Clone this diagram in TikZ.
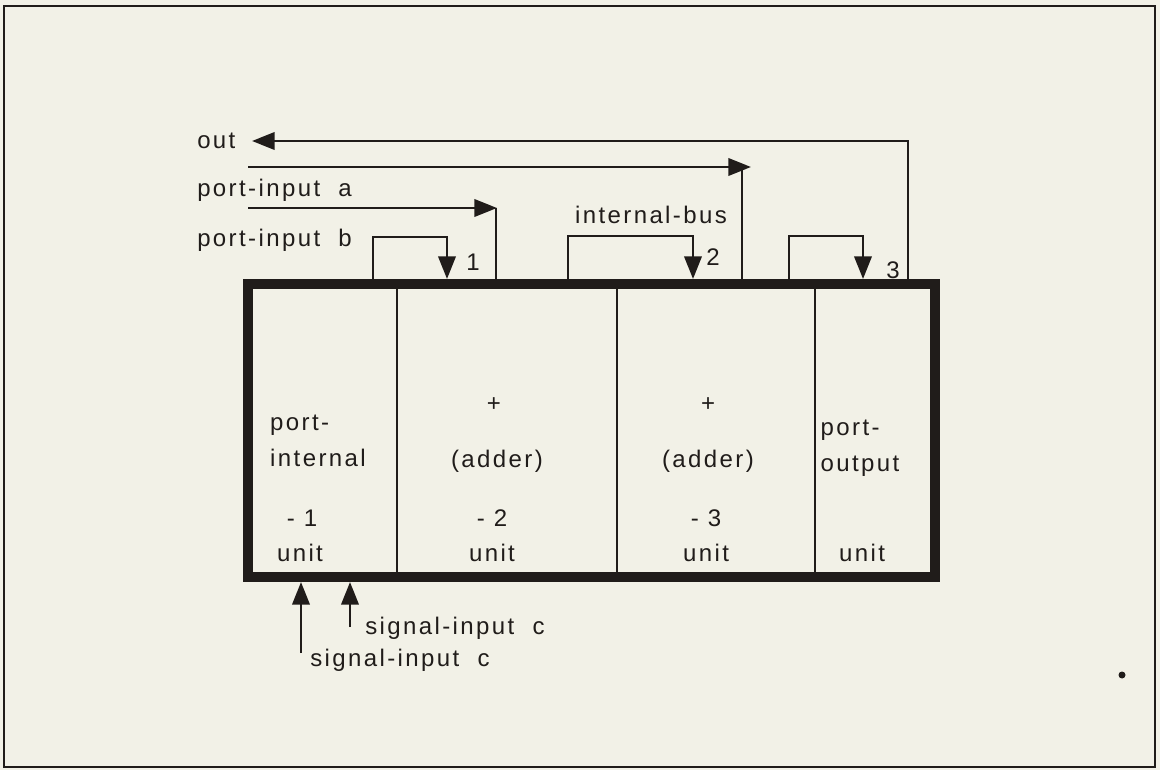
\documentclass[tikz,border=0pt]{standalone}
\usepackage{fontspec}
\setmainfont{Liberation Sans}[LetterSpace=10]
\usetikzlibrary{arrows.meta}
\definecolor{paper}{RGB}{242,241,231}
\definecolor{ink}{RGB}{32,28,26}

\begin{document}
\begin{tikzpicture}[x=0.75pt, y=-0.75pt,
  every node/.style={font=\fontsize{18}{21}\selectfont, text=ink, inner sep=0pt},
  wire/.style={draw=ink, line width=2pt, line join=miter},
  tip/.style={-{Triangle[length=17pt,width=13pt]}}]
  % paper and frame
  \fill[paper] (0,0) rectangle (1160,770);
  \draw[ink, line width=1.5pt] (4,6) rectangle (1155,767);

  % the four units
  \draw[ink, line width=7.5pt] (248,284) rectangle (935,577);
  \foreach \x in {397,617,815} {
    \draw[wire] (\x,284) -- (\x,577);
  }

  % ports on the box
  \coordinate (outsrc) at (908,279);
  \coordinate (busa) at (742,279);
  \coordinate (busb) at (496,279);
  \coordinate (sigl) at (301,582);
  \coordinate (sigr) at (350,582);

  % unit texts
  \node[align=left] (u1) at (318,441) {port-\\[6pt]internal};
  \node (u1n) at (302,518) {- 1};
  \node (u1u) at (300,553) {unit};
  \node (u2p) at (494,405) {+};
  \node (u2) at (497,461) {(adder)};
  \node (u2n) at (492,518) {- 2};
  \node (u2u) at (492,553) {unit};
  \node (u3p) at (708,405) {+};
  \node (u3) at (708,461) {(adder)};
  \node (u3n) at (706,518) {- 3};
  \node (u3u) at (706,553) {unit};
  \node[align=left] (u4) at (860,448) {port-\\[6pt]output};
  \node (u4u) at (862,553) {unit};

  % top wires
  \node[anchor=west] (outlbl) at (197,141) {out};
  \coordinate (outtip) at (252,141);
  \draw[wire, tip] (outsrc) -- (908,141) -- (outtip);

  \coordinate (ina) at (248,167);
  \draw[wire, tip] (ina) -- (751,167);
  \draw[wire] (742,167) -- (busa);
  \node[anchor=west] (inalbl) at (197,190) {port-input~ a};

  \coordinate (inb) at (248,208);
  \draw[wire, tip] (inb) -- (497,208);
  \draw[wire] (496,208) -- (busb);
  \node[anchor=west] (inblbl) at (197,240) {port-input~ b};

  % internal bus loops
  \draw[wire, tip] (373,284) -- (373,237) -- (447,237) -- (447,279);
  \node (n1) at (473,262) {1};
  \draw[wire, tip] (568,284) -- (568,236) -- (693,236) -- (693,279);
  \node (n2) at (713,257) {2};
  \draw[wire, tip] (789,284) -- (789,236) -- (863,236) -- (863,279);
  \node (n3) at (893,270) {3};
  \node (buslbl) at (651,215) {internal-bus};

  % signal inputs
  \coordinate (sigla) at (301,653);
  \coordinate (sigra) at (350,627);
  \draw[wire, tip] (sigla) -- (sigl);
  \draw[wire, tip] (sigra) -- (sigr);
  \node[anchor=west] (sigrlbl) at (365,628) {signal-input~ c};
  \node[anchor=west] (sigllbl) at (310,660) {signal-input~ c};

  % speck
  \fill[ink] (1122,675) circle (3.5);
\end{tikzpicture}
\end{document}
